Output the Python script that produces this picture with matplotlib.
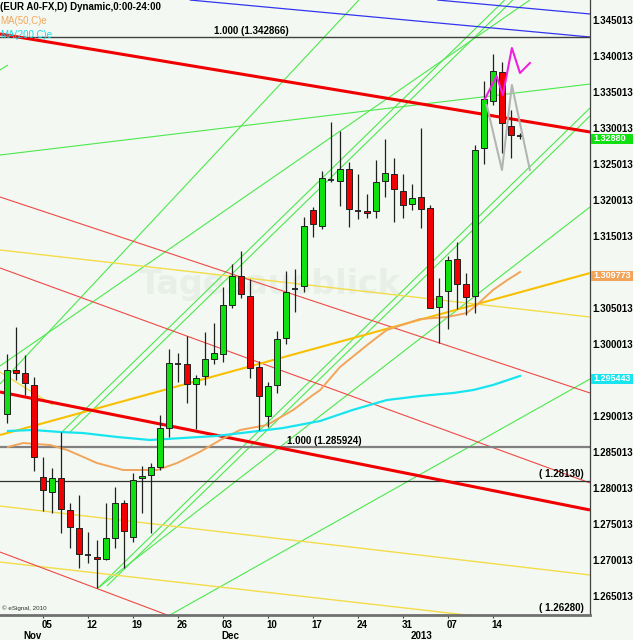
import matplotlib.pyplot as plt
from matplotlib.patches import Rectangle
from matplotlib.transforms import ScaledTranslation
import numpy as np

# daily candles, day 0 = 30 Oct 2012 (trading days only)
opens = [1.2906, 1.2967, 1.2963, 1.2946, 1.2818, 1.2798, 1.2817, 1.2772, 1.2747, 1.2710,
         1.2707, 1.2704, 1.2733, 1.2782, 1.2735, 1.2817, 1.2821, 1.2832, 1.2886, 1.2975,
         1.2975, 1.2947, 1.2958, 1.2982, 1.2989, 1.3057, 1.3097, 1.3070, 1.2971, 1.2903,
         1.2946, 1.3011, 1.3079, 1.3083, 1.3189, 1.3167, 1.3231, 1.3230, 1.3246, 1.3188,
         1.3188, 1.3188, 1.3230, 1.3239, 1.3215, 1.3197, 1.3207, 1.3192, 1.3054, 1.3077,
         1.3121, 1.3086, 1.3070, 1.3275, 1.3341, 1.3381, 1.3306, 1.3292]
highs = [1.2989, 1.3026, 1.2988, 1.2957, 1.2846, 1.2831, 1.2881, 1.2782, 1.2793, 1.2742,
         1.2731, 1.2782, 1.2804, 1.2786, 1.2824, 1.2834, 1.2838, 1.2904, 1.2996, 1.2990,
         1.3014, 1.2960, 1.3020, 1.3032, 1.3082, 1.3114, 1.3132, 1.3093, 1.2980, 1.2950,
         1.3021, 1.3105, 1.3107, 1.3179, 1.3193, 1.3243, 1.3311, 1.3299, 1.3256, 1.3239,
         1.3211, 1.3259, 1.3288, 1.3261, 1.3239, 1.3225, 1.3303, 1.3196, 1.3095, 1.3125,
         1.3145, 1.3102, 1.3279, 1.3368, 1.3406, 1.3395, 1.3328, 1.3296]
lows = [1.2893, 1.2953, 1.2932, 1.2827, 1.2771, 1.2768, 1.2741, 1.2720, 1.2692, 1.2699,
        1.2664, 1.2703, 1.2720, 1.2692, 1.2728, 1.2768, 1.2741, 1.2828, 1.2874, 1.2950,
        1.2921, 1.2885, 1.2946, 1.2975, 1.2978, 1.3053, 1.3067, 1.2956, 1.2884, 1.2888,
        1.2935, 1.3003, 1.3047, 1.3075, 1.3152, 1.3163, 1.3228, 1.3195, 1.3165, 1.3177,
        1.3178, 1.3178, 1.3207, 1.3172, 1.3178, 1.3189, 1.3164, 1.3053, 1.3004, 1.3024,
        1.3052, 1.3043, 1.3046, 1.3253, 1.3335, 1.3268, 1.3261, 1.3288]
closes = [1.2967, 1.2963, 1.2949, 1.2846, 1.2800, 1.2817, 1.2774, 1.2749, 1.2711, 1.2710,
          1.2704, 1.2733, 1.2782, 1.2743, 1.2814, 1.2820, 1.2832, 1.2886, 1.2977, 1.2975,
          1.2947, 1.2956, 1.2982, 1.2990, 1.3057, 1.3097, 1.3072, 1.2970, 1.2931, 1.2945,
          1.3010, 1.3075, 1.3079, 1.3167, 1.3170, 1.3234, 1.3231, 1.3246, 1.3190, 1.3188,
          1.3185, 1.3228, 1.3240, 1.3218, 1.3196, 1.3206, 1.3190, 1.3053, 1.3070, 1.3120,
          1.3086, 1.3068, 1.3272, 1.3343, 1.3382, 1.3310, 1.3293, 1.3292]

# moving averages (day, value)
ma50_day = [0.1, 1.8, 4.8, 6.7, 10, 12.9, 16.7, 18.9, 21.4, 23.7, 25.9, 28.9, 31.8, 34,
            34.8, 37, 40.3, 42.2, 45.9, 48.9, 51.1, 52.2, 54, 55.6, 57]
ma50_val = [1.28599, 1.28654, 1.28626, 1.28557, 1.28376, 1.28279, 1.28279, 1.28376, 1.28529,
            1.28696, 1.28835, 1.28904, 1.29113, 1.29321, 1.29390, 1.29710, 1.30043, 1.30224,
            1.30376, 1.30404, 1.30460, 1.30571, 1.30779, 1.30918, 1.31029]
ma200_day = [0.1, 2.9, 5.9, 8.4, 12.2, 15.9, 19.6, 23.3, 27, 30.7, 34.8, 38.4, 42.2, 45.9,
             49.6, 51.8, 54, 57]
ma200_val = [1.28821, 1.28835, 1.28807, 1.28793, 1.28738, 1.28696, 1.28724, 1.28752, 1.28807,
             1.28863, 1.28960, 1.29113, 1.29251, 1.29307, 1.29349, 1.29390, 1.29460, 1.29585]

# trend lines: (day0, price0, day1, price1)
red_thick = [(-0.78, 1.34335, 64.78, 1.32974), (-0.78, 1.29363, 64.78, 1.27724)]
red_thin = [(-0.78, 1.32071, 64.78, 1.29349), (-0.78, 1.31085, 64.78, 1.28099),
            (-0.78, 1.27140, 18.1, 1.26251)]
blue = [(20.3, 1.34807, 64.78, 1.34293), (47.8, 1.34807, 64.78, 1.34613)]
gold = [(-0.78, 1.28765, 64.78, 1.31015)]
yellow = [(-0.78, 1.31335, 64.78, 1.30404), (-0.78, 1.29640, 5.1, 1.29182),
          (-0.78, 1.27779, 64.78, 1.26821), (-0.78, 1.27001, 51.1, 1.26265)]
green = [(-0.78, 1.32654, 64.78, 1.33640), (-0.78, 1.33835, 0.11, 1.33904),
         (-0.78, 1.29474, 39.1, 1.34807), (-0.78, 1.29724, 58.1, 1.34807),
         (6.1, 1.28807, 55.3, 1.34807), (7.0, 1.28807, 56.2, 1.34807),
         (10.1, 1.26640, 64.78, 1.33307), (11.1, 1.26668, 64.78, 1.33196),
         (10.1, 1.26640, 64.78, 1.31932), (18.1, 1.26265, 64.78, 1.29543)]

# projection zigzags
pink_day = [53.1, 54.4, 55.1, 56.1, 57.0, 58.1]
pink_val = [1.33432, 1.33751, 1.33488, 1.34140, 1.33793, 1.33932]
grey_day = [53.3, 55.0, 56.1, 58.1]
grey_val = [1.33349, 1.32446, 1.33626, 1.32446]

# horizontal levels
levels = [1.342866, 1.285924, 1.28130, 1.26280]
level_text = ['1.000 (1.342866)', '1.000 (1.285924)', '( 1.28130)', '( 1.26280)']

# axis labels
mon_day = [4, 9, 14, 19, 24, 29, 34, 39, 44, 49, 54]
mon_lab = ['05', '12', '19', '26', '03', '10', '17', '24', '31', '07', '14']
month_day = [2, 24, 45]
month_lab = ['Nov', 'Dec', '2013']
# price scale, without the two labels hidden under the MA boxes
price_ticks = [1.265013, 1.270013, 1.275013, 1.280013, 1.285013, 1.290013, 1.300013,
               1.305013, 1.315013, 1.320013, 1.325013, 1.330013, 1.335013, 1.340013, 1.345013]

last_price = 1.32880
ma50_last = 1.309773
ma200_last = 1.295443

bg = '#F3F9F2'
font = 'Liberation Sans'

fig = plt.figure(figsize=(6.33, 6.40), dpi=100, facecolor=bg)
ax = fig.add_axes([0, 25 / 640, 590 / 633, 615 / 640], facecolor=bg)
ax.set_xlim(-0.78, 64.78)
ax.set_ylim(1.262653, 1.34807)

ax.text(29.2, 1.3085, 'Tagesausblick', fontsize=24, weight='bold', color='#E7EFE6',
        ha='center', va='center', zorder=0.5)


def draw(lines, **kw):
    for d0, p0, d1, p1 in lines:
        ax.plot([d0, d1], [p0, p1], solid_capstyle='butt', **kw)


draw(green, color='#4CE84C', lw=0.8, zorder=2)
draw(yellow, color='#F2DC4A', lw=1.0, zorder=2)
draw(red_thin, color='#F04848', lw=0.8, zorder=2)
draw(blue, color='#3434F0', lw=0.9, zorder=2)
draw(gold, color='#F8C000', lw=1.5, zorder=3)
draw(red_thick, color='#F00000', lw=2.2, zorder=3)

# levels
ax.axhline(levels[0], color='#404040', lw=1.0, zorder=2)
ax.axhline(levels[1], color='#808080', lw=1.6, zorder=2)
ax.axhline(levels[2], color='#303030', lw=0.9, zorder=2)
ax.text(27.2, levels[0] + 0.0002, level_text[0], fontsize=7, weight='bold',
        family=font, ha='center', va='bottom', zorder=8)
ax.text(31.1, levels[1] + 0.0002, level_text[1], fontsize=7, weight='bold',
        family=font, ha='left', va='bottom', zorder=8)
ax.text(59.1, levels[2] + 0.0002, level_text[2], fontsize=7, weight='bold',
        family=font, ha='left', va='bottom', zorder=8)
ax.text(59.1, levels[3] + 0.0002, level_text[3], fontsize=7, weight='bold',
        family=font, ha='left', va='bottom', zorder=8)

ax.plot(ma50_day, ma50_val, color='#F2A55A', lw=1.4, zorder=3)
ax.plot(ma200_day, ma200_val, color='#18E4F0', lw=1.6, zorder=3)

# candles
x = np.arange(len(opens))
o = np.array(opens)
h = np.array(highs)
l = np.array(lows)
c = np.array(closes)
up = c > o
down = c < o
flat = c == o
ax.vlines(x, l, h, color='#202020', lw=0.9, zorder=5)
ax.bar(x[up], (c - o)[up], bottom=o[up], width=0.66, color='#10E010',
       edgecolor='#202020', lw=0.7, zorder=6)
ax.bar(x[down], (o - c)[down], bottom=c[down], width=0.66, color='#F00000',
       edgecolor='#202020', lw=0.7, zorder=6)
ax.hlines(c[flat], x[flat] - 0.38, x[flat] + 0.38, color='#202020', lw=1.3, zorder=6)

ax.plot(grey_day, grey_val, color='#B4B4B4', lw=1.5, zorder=7)
ax.plot(pink_day, pink_val, color='#F020E0', lw=1.5, zorder=7)

# header texts
ax.text(0.0, 0.997, '(EUR A0-FX,D) Dynamic,0:00-24:00', transform=ax.transAxes,
        fontsize=7, weight='bold', family=font, va='top', ha='left', zorder=9)
ax.text(0.0, 0.974, 'MA(50,C)e', transform=ax.transAxes, fontsize=7, family=font,
        color='#F2A55A', va='top', ha='left', zorder=9)
ax.text(0.0, 0.951, 'MA(200,C)e', transform=ax.transAxes, fontsize=7, family=font,
        color='#18D8E8', va='top', ha='left', zorder=9)
ax.text(0.003, 0.006, '\u00a9 eSignal, 2010', transform=ax.transAxes, fontsize=4.5,
        family=font, color='#303030', va='bottom', ha='left', zorder=9)

# axes styling
for s in ['top', 'left']:
    ax.spines[s].set_visible(False)
ax.spines['right'].set_color('#404040')
ax.spines['right'].set_linewidth(0.9)
ax.spines['bottom'].set_color('#707070')
ax.spines['bottom'].set_linewidth(2)

ax.yaxis.tick_right()
ax.set_yticks(price_ticks)
ax.set_yticklabels(['%.6f' % p for p in price_ticks], fontsize=7, weight='bold', family=font)
ax.tick_params(axis='y', length=0, pad=2)
lift = ScaledTranslation(0, 2 / 100, fig.dpi_scale_trans)
for lab in ax.get_yticklabels():
    lab.set_transform(lab.get_transform() + lift)

ax.set_xticks(mon_day)
ax.set_xticklabels([])
ax.tick_params(axis='x', length=2.5, width=0.8, color='#404040', direction='out')
xt = ax.get_xaxis_transform()
for d, lab in zip(mon_day, mon_lab):
    ax.text(d - 0.15, -0.008, lab, transform=xt, fontsize=7, weight='bold', family=font,
            ha='left', va='top', clip_on=False)
for d, lab in zip(month_day, month_lab):
    ax.text(d - 0.15, -0.026, lab, transform=xt, fontsize=7, weight='bold', family=font,
            ha='left', va='top', clip_on=False)

# value boxes on the price scale
yt = ax.get_yaxis_transform()
box_h = 0.00135
for val, txt, col in [(last_price, '1.32880', '#10E010'),
                      (ma50_last, '1.309773', '#F2A55A'),
                      (ma200_last, '1.295443', '#18E4F0')]:
    ax.add_patch(Rectangle((1.002, val - box_h / 2), 0.072, box_h, transform=yt,
                           fc=col, ec='none', clip_on=False, zorder=9))
    ax.text(1.006, val, txt, transform=yt, fontsize=6.5, weight='bold', family=font,
            color='white', ha='left', va='center', zorder=10, clip_on=False)

fig.savefig('out.png', dpi=100, facecolor=bg)
